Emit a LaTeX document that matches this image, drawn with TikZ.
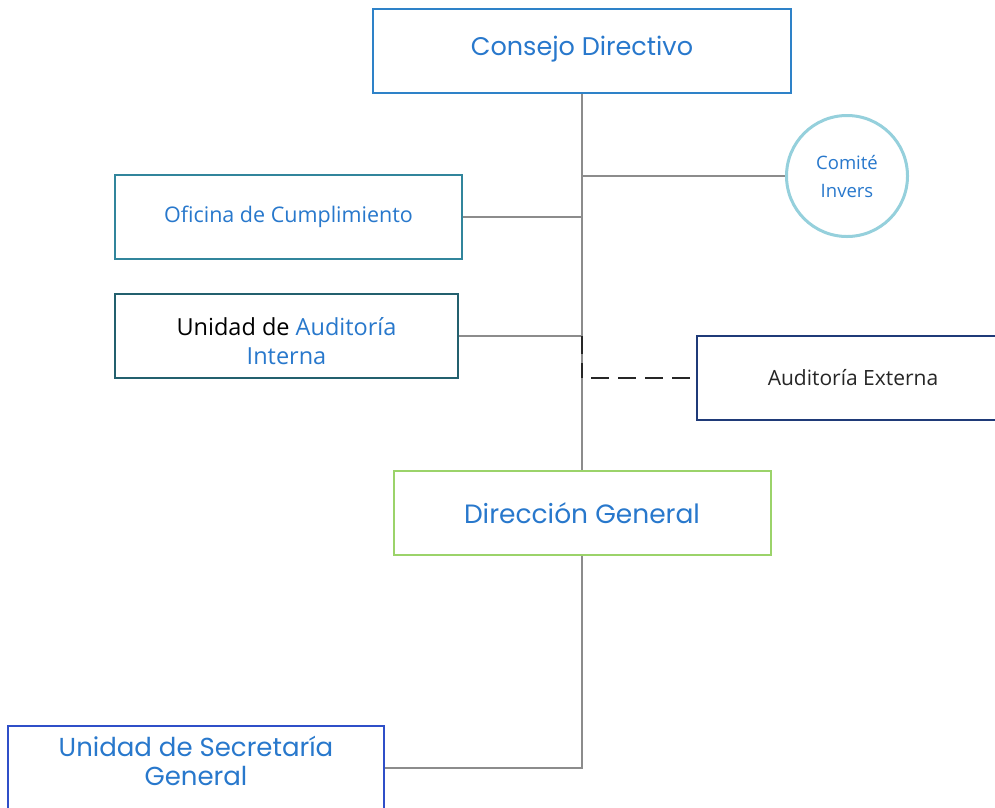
\documentclass[tikz,border=0pt]{standalone}
\usepackage{fontspec}
\setmainfont{Open Sans}
\newfontfamily\gotica{Poppins}
\usetikzlibrary{positioning, calc}
\definecolor{bluTesto}{HTML}{2878CC}
\definecolor{bordoConsiglio}{HTML}{2E82C8}
\definecolor{bordoUfficio}{HTML}{31859C}
\definecolor{bordoAudit}{HTML}{23606E}
\definecolor{bordoEsterno}{HTML}{1F3A78}
\definecolor{bordoDirezione}{HTML}{9BD36A}
\definecolor{bordoComitato}{HTML}{95D0DC}
\definecolor{bordoSegreteria}{HTML}{2F4FC8}
\definecolor{grigioLinea}{HTML}{8C8C8C}

\begin{document}
\begin{tikzpicture}[x = 1pt, y = -1pt,
    scatola/.style = {draw, line width = 2pt, fill = white, inner sep = 0pt, align = center},
    linea/.style = {draw = grigioLinea, line width = 2pt},
    tratteggio/.style = {draw = black!85, line width = 2.5pt, dash pattern = on 18pt off 9pt}]
    % Parametri
    \pgfmathsetmacro{\alt}{84}
    \pgfmathsetmacro{\tronco}{582}
    % Cornice
    \useasboundingbox (0,0) rectangle (995,807);
    \clip (0,0) rectangle (995,807);
    % Nodi
    \node[scatola, draw = bordoConsiglio, minimum width = 418pt, minimum height = \alt pt, text depth = 11pt, font = \gotica\fontsize{25.5}{30}\selectfont, text = bluTesto] (cons) at (\tronco,51) {Consejo Directivo};
    \node[scatola, draw = bordoComitato, circle, line width = 3pt, minimum size = 121pt, font = \fontsize{18.5}{28}\selectfont, text = bluTesto] (com) at (847,176) {Comité\\Invers};
    \node[scatola, draw = bordoUfficio, minimum width = 347pt, minimum height = \alt pt, font = \fontsize{21.5}{26}\selectfont, text = bluTesto] (ofi) at (288.5,217) {Oficina de Cumplimiento};
    \node[scatola, draw = bordoAudit, minimum width = 343pt, minimum height = \alt pt, text height = 57pt, font = \fontsize{23.5}{29}\selectfont] (audi) at (286.5,336) {Unidad de \textcolor{bluTesto}{Auditoría}\\\textcolor{bluTesto}{Interna}};
    \node[scatola, draw = bordoEsterno, minimum width = 312pt, minimum height = \alt pt, font = \fontsize{21}{26}\selectfont, text = black!85] (aude) at (853,378) {Auditoría Externa};
    \node[scatola, draw = bordoDirezione, minimum width = 377pt, minimum height = \alt pt, font = \gotica\fontsize{26.5}{30}\selectfont, text = bluTesto] (dir) at (\tronco,513) {Dirección General};
    \node[scatola, draw = bordoSegreteria, minimum width = 376pt, minimum height = \alt pt, text depth = 14pt, font = \gotica\fontsize{26}{29}\selectfont, text = bluTesto] (seg) at (196,768) {Unidad de Secretaría\\General};
    % Collegamenti
    \draw[linea] (cons.south) -- (dir.north);
    \draw[linea] (com.west) -- (com.west -| cons.south);
    \draw[linea] (ofi.east) -- (ofi.east -| cons.south);
    \draw[linea] (audi.east) -- (audi.east -| cons.south);
    \coordinate (snodo) at (dir.south |- seg.east);
    \draw[linea] (dir.south) -- (snodo) -- (seg.east);
    % Linea tratteggiata verso l'esterno
    \draw[tratteggio] (audi.east -| cons.south) -- (aude.west -| cons.south);
    \draw[tratteggio, dash phase = 18pt] (aude.west -| cons.south) -- (aude.west);
\end{tikzpicture}
\end{document}
